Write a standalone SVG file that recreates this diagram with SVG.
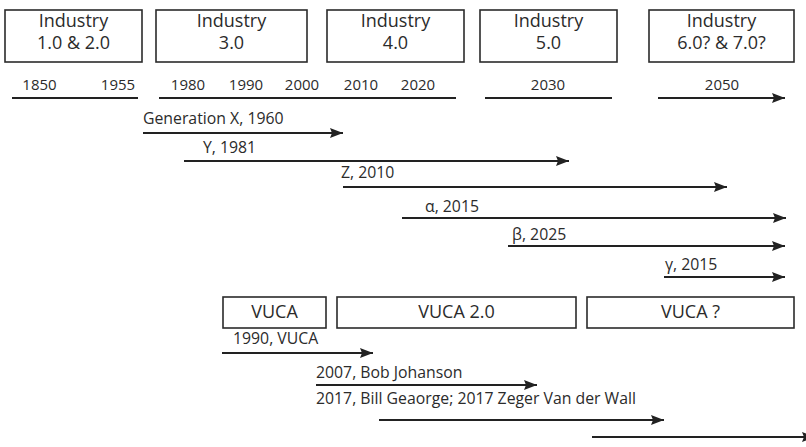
<svg xmlns="http://www.w3.org/2000/svg" width="806" height="447" viewBox="0 0 806 447">
  <style>
    .box { fill: #ffffff; stroke: #2b2b2b; stroke-width: 1.6; }
    .big { font-family: "Open Sans", "Noto Sans", sans-serif; font-size: 18px; fill: #2b2b2b; text-anchor: middle; }
    .lbl { font-family: "Open Sans", "Noto Sans", sans-serif; font-size: 15.8px; fill: #2b2b2b; }
    .yr { font-family: "Open Sans", "Noto Sans", sans-serif; font-size: 15px; fill: #2b2b2b; text-anchor: middle; }
    .ln { stroke: #222222; stroke-width: 2; fill: none; }
    .arr { stroke: #222222; stroke-width: 2; fill: none; marker-end: url(#head); }
  </style>
  <defs>
    <marker id="head" markerUnits="userSpaceOnUse" markerWidth="14" markerHeight="10" refX="13" refY="5" orient="auto" overflow="visible">
      <path d="M0,0 L13,5 L0,10 L2,5 z" fill="#222222"/>
    </marker>
  </defs>
  <rect width="806" height="447" fill="#ffffff"/>

  <!-- Industry eras -->
  <g id="industry-1-2">
    <rect class="box" x="5" y="10" width="137" height="52"/>
    <text class="big" x="73.5" y="27">Industry</text>
    <text class="big" x="73.5" y="49">1.0 &amp; 2.0</text>
  </g>
  <g id="industry-3">
    <rect class="box" x="156" y="10" width="151" height="52"/>
    <text class="big" x="231.5" y="27">Industry</text>
    <text class="big" x="231.5" y="49">3.0</text>
  </g>
  <g id="industry-4">
    <rect class="box" x="327" y="10" width="137" height="52"/>
    <text class="big" x="395.5" y="27">Industry</text>
    <text class="big" x="395.5" y="49">4.0</text>
  </g>
  <g id="industry-5">
    <rect class="box" x="480" y="10" width="137" height="52"/>
    <text class="big" x="548.5" y="27">Industry</text>
    <text class="big" x="548.5" y="49">5.0</text>
  </g>
  <g id="industry-6-7">
    <rect class="box" x="649" y="10" width="145" height="52"/>
    <text class="big" x="721.5" y="27">Industry</text>
    <text class="big" x="721.5" y="49">6.0? &amp; 7.0?</text>
  </g>

  <!-- Year scale -->
  <g id="timeline">
    <text class="yr" x="39.5" y="90">1850</text>
    <text class="yr" x="118" y="90">1955</text>
    <text class="yr" x="188" y="90">1980</text>
    <text class="yr" x="246" y="90">1990</text>
    <text class="yr" x="302" y="90">2000</text>
    <text class="yr" x="361" y="90">2010</text>
    <text class="yr" x="418" y="90">2020</text>
    <text class="yr" x="548" y="90">2030</text>
    <text class="yr" x="722" y="90">2050</text>
    <line class="ln" x1="12" y1="98" x2="138" y2="98"/>
    <line class="ln" x1="159" y1="98" x2="456" y2="98"/>
    <line class="ln" x1="485" y1="98" x2="612" y2="98"/>
    <line class="arr" x1="658" y1="98" x2="785" y2="98"/>
  </g>

  <!-- VUCA eras -->
  <g id="vuca-1">
    <rect class="box" x="223" y="297" width="103" height="31"/>
    <text class="big" x="274.5" y="318">VUCA</text>
  </g>
  <g id="vuca-2">
    <rect class="box" x="337" y="297" width="239" height="31"/>
    <text class="big" x="456.5" y="318">VUCA 2.0</text>
  </g>
  <g id="vuca-3">
    <rect class="box" x="587" y="297" width="207" height="31"/>
    <text class="big" x="690.5" y="318">VUCA ?</text>
  </g>

  <!-- Spans -->
  <g id="connectors">
    <text class="lbl" x="143" y="124">Generation X, 1960</text>
    <line class="arr" x1="143" y1="133" x2="343" y2="133"/>
    <text class="lbl" x="203" y="153">Y, 1981</text>
    <line class="arr" x1="184" y1="161" x2="569" y2="161"/>
    <text class="lbl" x="341" y="178">Z, 2010</text>
    <line class="arr" x1="343" y1="187" x2="727" y2="187"/>
    <text class="lbl" x="425" y="212">α, 2015</text>
    <line class="arr" x1="402" y1="218" x2="786" y2="218"/>
    <text class="lbl" x="512" y="240">β, 2025</text>
    <line class="arr" x1="508" y1="246" x2="785" y2="246"/>
    <text class="lbl" x="665" y="270">γ, 2015</text>
    <line class="arr" x1="664" y1="277" x2="785" y2="277"/>

    <text class="lbl" x="233" y="344">1990, VUCA</text>
    <line class="arr" x1="222" y1="353" x2="373" y2="353"/>
    <text class="lbl" x="316" y="378">2007, Bob Johanson</text>
    <line class="arr" x1="316" y1="385" x2="537" y2="385"/>
    <text class="lbl" x="316" y="404">2017, Bill Geaorge; 2017 Zeger Van der Wall</text>
    <line class="arr" x1="379" y1="420" x2="664" y2="420"/>
    <line class="arr" x1="592" y1="437" x2="815" y2="437"/>
  </g>
</svg>
